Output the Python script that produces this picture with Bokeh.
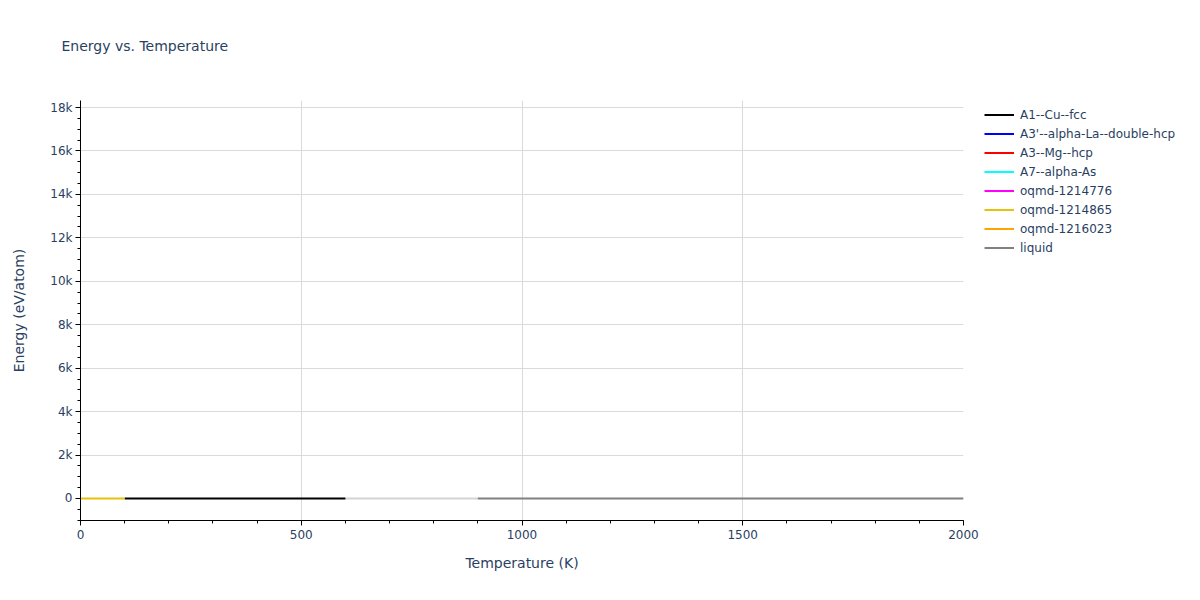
import numpy as np
from bokeh.plotting import figure
from bokeh.models import FixedTicker, Legend, LegendItem, Range1d
from bokeh.embed import file_html
from bokeh.resources import INLINE

# ---- data ----
series_names = ["A1--Cu--fcc", "A3'--alpha-La--double-hcp", "A3--Mg--hcp", "A7--alpha-As",
                "oqmd-1214776", "oqmd-1214865", "oqmd-1216023", "liquid"]
series_colors = ["#000000", "#0000ff", "#ff0000", "#00ffff", "#ff00ff", "#e6c20c", "#ffa500", "#808080"]

cu_fcc_T = [100, 600]
cu_fcc_E = [0, 0]
oqmd_1214865_T = [0, 100]
oqmd_1214865_E = [0, 0]
liquid_T = [900, 2000]
liquid_E = [0, 0]
transition_T = [600, 900]
transition_E = [0, 0]
no_data_T = [np.nan]
no_data_E = [np.nan]

x_ticks = [0, 500, 1000, 1500, 2000]
y_ticks = [0, 2000, 4000, 6000, 8000, 10000, 12000, 14000, 16000, 18000]
y_tick_labels = ["0", "2k", "4k", "6k", "8k", "10k", "12k", "14k", "16k", "18k"]

FONT = "DejaVu Sans"
TXT = "#2a3f5f"
FW, FH = 883, 420
ROW = 19
PAD = 5

p = figure(frame_width=FW, frame_height=FH, output_backend="svg", toolbar_location=None,
           x_range=Range1d(0, 2000), y_range=Range1d(-1013, 18324),
           min_border_left=80, min_border_top=100, min_border_bottom=72, min_border_right=230,
           title="Energy vs. Temperature\n")
p.outline_line_color = None
p.background_fill_color = "white"
p.border_fill_color = "white"

p.title.text_font = FONT
p.title.text_font_size = "14px"
p.title.text_font_style = "normal"
p.title.text_color = TXT
p.title.offset = -19
p.title.standoff = 62

# axes
p.xaxis.ticker = FixedTicker(ticks=x_ticks, minor_ticks=list(range(0, 2001, 100)))
p.yaxis.ticker = FixedTicker(ticks=y_ticks, minor_ticks=list(range(-1000, 18501, 500)))
p.yaxis.major_label_overrides = {t: l for t, l in zip(y_ticks, y_tick_labels)}
for ax in (p.xaxis, p.yaxis):
    ax.axis_line_color = "#000000"
    ax.major_tick_line_color = "#000000"
    ax.minor_tick_line_color = "#000000"
    ax.major_tick_out = 5
    ax.major_tick_in = 0
    ax.minor_tick_out = 3
    ax.minor_tick_in = 0
    ax.major_label_text_font = FONT
    ax.major_label_text_font_size = "12px"
    ax.major_label_text_color = TXT
    ax.axis_label_text_font = FONT
    ax.axis_label_text_font_size = "14px"
    ax.axis_label_text_font_style = "normal"
    ax.axis_label_text_color = TXT
p.xaxis.axis_label = "Temperature (K)"
p.yaxis.axis_label = "Energy (eV/atom)"
p.xaxis.major_label_standoff = 4
p.yaxis.major_label_standoff = 3
p.xaxis.axis_label_standoff = 13
p.yaxis.axis_label_standoff = 20

p.xgrid.grid_line_color = "#dadada"
p.ygrid.grid_line_color = "#dadada"

# lines
p.line(transition_T, transition_E, line_color="#d3d3d3", line_width=2)
data_map = {
    "A1--Cu--fcc": (cu_fcc_T, cu_fcc_E),
    "oqmd-1214865": (oqmd_1214865_T, oqmd_1214865_E),
    "liquid": (liquid_T, liquid_E),
}
items = []
for name, color in zip(series_names, series_colors):
    xs, ys = data_map.get(name, (no_data_T, no_data_E))
    r = p.line(xs, ys, line_color=color, line_width=2)
    items.append(LegendItem(label=name, renderers=[r]))

legend_h = len(items) * ROW + 2 * PAD
legend = Legend(items=items, location=(21, FH - legend_h + 5))
legend.border_line_color = None
legend.background_fill_alpha = 0
legend.label_text_font = FONT
legend.label_text_font_size = "12px"
legend.label_text_color = TXT
legend.glyph_width = 30
legend.glyph_height = ROW
legend.label_height = ROW
legend.spacing = 0
legend.padding = PAD
legend.margin = 0
legend.label_standoff = 6
p.add_layout(legend, "right")

open("out.html", "w").write(file_html(p, INLINE))
